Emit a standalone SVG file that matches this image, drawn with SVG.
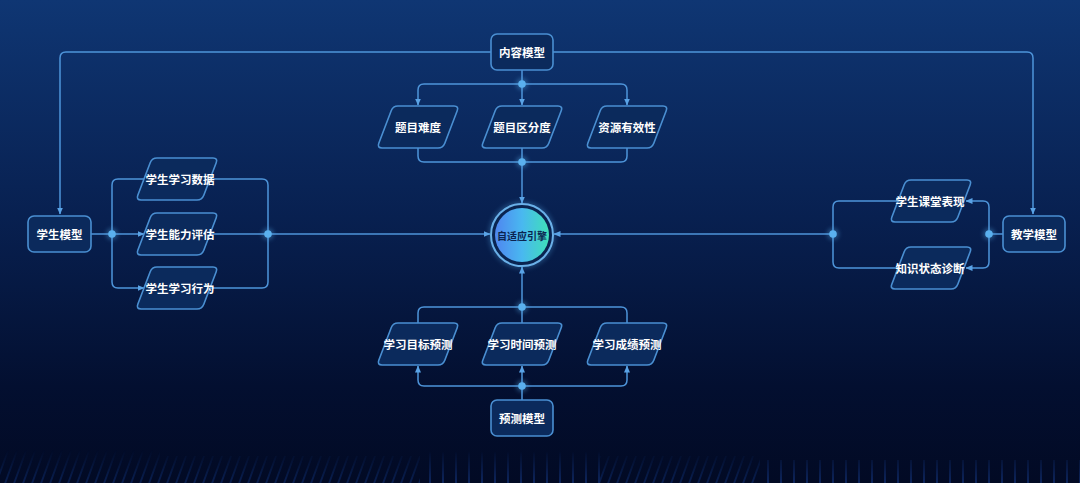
<svg xmlns="http://www.w3.org/2000/svg" xmlns:xlink="http://www.w3.org/1999/xlink" width="1080" height="483" viewBox="0 0 1080 483">
<defs>
<linearGradient id="bg" x1="0" y1="0" x2="0" y2="1">
<stop offset="0" stop-color="#0f3673"/>
<stop offset="0.45" stop-color="#082050"/>
<stop offset="0.8" stop-color="#030f30"/>
<stop offset="1" stop-color="#020a24"/>
</linearGradient>
<linearGradient id="core" x1="0" y1="0" x2="1" y2="0">
<stop offset="0" stop-color="#4f86f0"/>
<stop offset="0.5" stop-color="#49b8f0"/>
<stop offset="1" stop-color="#3fe0b8"/>
</linearGradient>
<pattern id="stripes" width="9" height="30" patternUnits="userSpaceOnUse" patternTransform="skewX(-20)">
<rect x="0" y="0" width="2" height="30" fill="#1c4fb8" opacity="0.3"/>
</pattern>
<pattern id="stripes2" width="13" height="30" patternUnits="userSpaceOnUse">
<rect x="0" y="0" width="2" height="30" fill="#2358c8" opacity="0.35"/>
</pattern>
<linearGradient id="fade" x1="0" y1="0" x2="0" y2="1">
<stop offset="0" stop-color="#fff" stop-opacity="0"/>
<stop offset="1" stop-color="#fff" stop-opacity="1"/>
</linearGradient>
<mask id="fm"><rect x="0" y="450" width="1080" height="33" fill="url(#fade)"/></mask>
<marker id="arr" markerUnits="userSpaceOnUse" markerWidth="7" markerHeight="7" refX="6.5" refY="3.5" orient="auto">
<path d="M0,0.5 L7,3.5 L0,6.5 z" fill="#5aa3e6"/>
</marker>
<path id="pg" d="M-20,-21 L36,-21 Q41,-21 39.2,-16.3 L26.8,16.3 Q25,21 20,21 L-36,21 Q-41,21 -39.2,16.3 L-26.8,-16.3 Q-25,-21 -20,-21 Z"/>
<filter id="glow" x="-50%" y="-50%" width="200%" height="200%">
<feGaussianBlur stdDeviation="2"/>
</filter>
</defs>
<style>
.ln{fill:none;stroke:#4e95da;stroke-width:1.5;stroke-linejoin:round}
.box{fill:#0b2a5c;stroke:#4a8fd2;stroke-width:1.6}
.par{fill:#0b2a5c;stroke:#4a8fd2;stroke-width:1.6}
.t{font-family:"Noto Sans CJK SC","Noto Sans",sans-serif;font-size:11.5px;font-weight:bold;fill:#ffffff;text-anchor:middle;dominant-baseline:central}
.dot{fill:#5ab0ee}
</style>
<rect width="1080" height="483" fill="url(#bg)"/>
<g id="bottom-decor" mask="url(#fm)">
<rect x="0" y="450" width="160" height="33" fill="url(#stripes)"/>
<rect x="160" y="456" width="260" height="27" fill="url(#stripes)"/>
<rect x="420" y="452" width="180" height="31" fill="url(#stripes2)"/>
<rect x="600" y="456" width="160" height="27" fill="url(#stripes)"/>
<rect x="760" y="460" width="320" height="23" fill="url(#stripes2)"/>
</g>

<g id="connectors">
<path class="ln" d="M491,52 L66,52 Q60,52 60,58 L60,214" marker-end="url(#arr)"/>
<path class="ln" d="M553,52 L1027,52 Q1033,52 1033,58 L1033,214" marker-end="url(#arr)"/>
<path class="ln" d="M522,70 L522,84"/>
<path class="ln" d="M522,84 L424,84 Q418,84 418,90 L418,105" marker-end="url(#arr)"/>
<path class="ln" d="M522,84 L522,105" marker-end="url(#arr)"/>
<path class="ln" d="M522,84 L621,84 Q627,84 627,90 L627,105" marker-end="url(#arr)"/>
<path class="ln" d="M418,148 L418,156 Q418,162 424,162 L621,162 Q627,162 627,156 L627,148"/>
<path class="ln" d="M522,148 L522,203" marker-end="url(#arr)"/>
<path class="ln" d="M91,234 L144,234" marker-end="url(#arr)"/>
<path class="ln" d="M112,234 L112,185 Q112,179 118,179 L152,179" marker-end="url(#arr)"/>
<path class="ln" d="M112,234 L112,282 Q112,288 118,288 L144,288" marker-end="url(#arr)"/>
<path class="ln" d="M210,179 L262,179 Q268,179 268,185 L268,282 Q268,288 262,288 L210,288"/>
<path class="ln" d="M210,234 L490,234" marker-end="url(#arr)"/>
<path class="ln" d="M1003,234 L989,234"/>
<path class="ln" d="M989,234 L989,207 Q989,201 983,201 L966,201" marker-end="url(#arr)"/>
<path class="ln" d="M989,234 L989,262 Q989,268 983,268 L966,268" marker-end="url(#arr)"/>
<path class="ln" d="M898,201 L839,201 Q833,201 833,207 L833,262 Q833,268 839,268 L898,268"/>
<path class="ln" d="M833,234 L554,234" marker-end="url(#arr)"/>
<path class="ln" d="M522,400 L522,386"/>
<path class="ln" d="M522,386 L424,386 Q418,386 418,380 L418,366" marker-end="url(#arr)"/>
<path class="ln" d="M522,386 L522,366" marker-end="url(#arr)"/>
<path class="ln" d="M522,386 L621,386 Q627,386 627,380 L627,366" marker-end="url(#arr)"/>
<path class="ln" d="M418,323 L418,313 Q418,307 424,307 L621,307 Q627,307 627,313 L627,323"/>
<path class="ln" d="M522,323 L522,267" marker-end="url(#arr)"/>
<g>
<circle class="dot" cx="522" cy="84" r="6" opacity="0.35" filter="url(#glow)"/><circle class="dot" cx="522" cy="84" r="3.8"/>
<circle class="dot" cx="522" cy="162" r="6" opacity="0.35" filter="url(#glow)"/><circle class="dot" cx="522" cy="162" r="3.8"/>
<circle class="dot" cx="112" cy="234" r="6" opacity="0.35" filter="url(#glow)"/><circle class="dot" cx="112" cy="234" r="3.8"/>
<circle class="dot" cx="268" cy="234" r="6" opacity="0.35" filter="url(#glow)"/><circle class="dot" cx="268" cy="234" r="3.8"/>
<circle class="dot" cx="833" cy="234" r="6" opacity="0.35" filter="url(#glow)"/><circle class="dot" cx="833" cy="234" r="3.8"/>
<circle class="dot" cx="989" cy="234" r="6" opacity="0.35" filter="url(#glow)"/><circle class="dot" cx="989" cy="234" r="3.8"/>
<circle class="dot" cx="522" cy="307" r="6" opacity="0.35" filter="url(#glow)"/><circle class="dot" cx="522" cy="307" r="3.8"/>
<circle class="dot" cx="522" cy="386" r="6" opacity="0.35" filter="url(#glow)"/><circle class="dot" cx="522" cy="386" r="3.8"/>
</g>
</g>

<g id="node-content-model"><rect class="box" x="491" y="34" width="62" height="36" rx="6"/><text class="t" x="522" y="52">内容模型</text></g>
<g id="node-student-model"><rect class="box" x="28" y="216" width="63" height="36" rx="6"/><text class="t" x="59.5" y="234">学生模型</text></g>
<g id="node-teaching-model"><rect class="box" x="1003" y="216" width="62" height="36" rx="6"/><text class="t" x="1034" y="234">教学模型</text></g>
<g id="node-prediction-model"><rect class="box" x="491" y="400" width="62" height="36" rx="6"/><text class="t" x="522" y="418">预测模型</text></g>

<g id="node-difficulty"><use href="#pg" class="par" x="418" y="127"/><text class="t" x="418" y="127">题目难度</text></g>
<g id="node-discrimination"><use href="#pg" class="par" x="522" y="127"/><text class="t" x="522" y="127">题目区分度</text></g>
<g id="node-resource"><use href="#pg" class="par" x="627" y="127"/><text class="t" x="627" y="127">资源有效性</text></g>

<g id="node-study-data"><use href="#pg" class="par" x="177" y="179"/><text class="t" x="180" y="179">学生学习数据</text></g>
<g id="node-ability"><use href="#pg" class="par" x="177" y="234"/><text class="t" x="180" y="234">学生能力评估</text></g>
<g id="node-behavior"><use href="#pg" class="par" x="177" y="288"/><text class="t" x="180" y="288">学生学习行为</text></g>

<g id="node-classroom"><use href="#pg" class="par" x="931" y="201"/><text class="t" x="930" y="201">学生课堂表现</text></g>
<g id="node-diagnosis"><use href="#pg" class="par" x="931" y="268"/><text class="t" x="930" y="268">知识状态诊断</text></g>

<g id="node-goal"><use href="#pg" class="par" x="418" y="344"/><text class="t" x="418" y="344">学习目标预测</text></g>
<g id="node-time"><use href="#pg" class="par" x="522" y="344"/><text class="t" x="522" y="344">学习时间预测</text></g>
<g id="node-score"><use href="#pg" class="par" x="627" y="344"/><text class="t" x="627" y="344">学习成绩预测</text></g>

<g id="node-engine">
<circle cx="522" cy="235" r="34" fill="#5ab0ee" opacity="0.25" filter="url(#glow)"/>
<circle cx="522" cy="235" r="31" fill="#0a2450" stroke="#6ab0e8" stroke-width="2"/>
<circle cx="522" cy="235" r="27" fill="url(#core)"/>
<text x="522" y="235" font-family="'Noto Sans CJK SC','Noto Sans',sans-serif" font-size="10px" font-weight="bold" fill="#0b2550" text-anchor="middle" dominant-baseline="central">自适应引擎</text>
</g>
</svg>
